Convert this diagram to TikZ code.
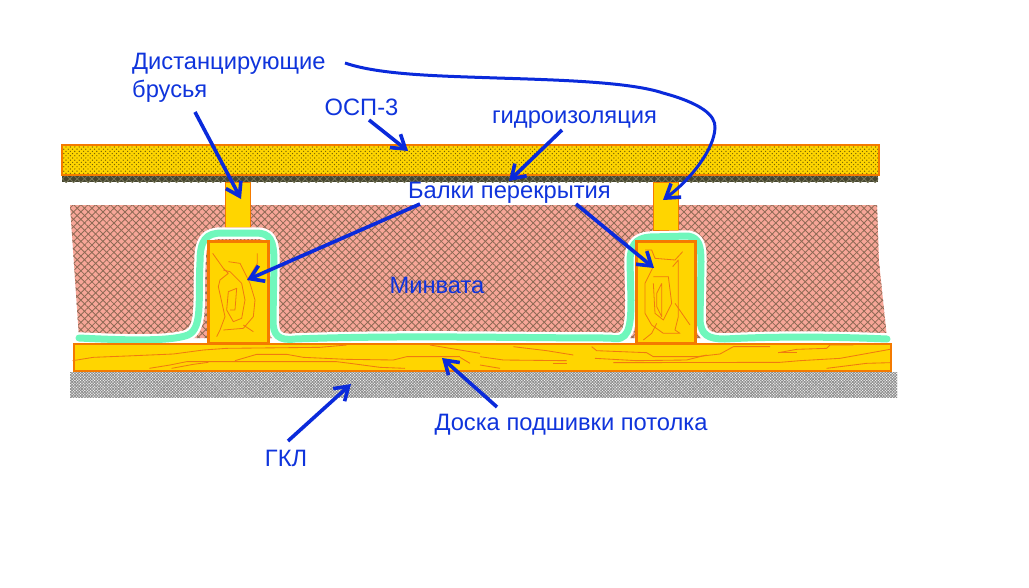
\documentclass[tikz,border=0pt]{standalone}
\usepackage{fontspec}
\setmainfont{Liberation Sans}
\usetikzlibrary{arrows.meta,patterns.meta}
\definecolor{wood}{HTML}{FFD500}
\definecolor{edge}{HTML}{F47A00}
\definecolor{grain}{HTML}{F07A10}
\definecolor{ink}{HTML}{0A2ADB}
\definecolor{txt}{HTML}{0F34DC}
\definecolor{pinkw}{HTML}{F7A698}
\definecolor{woolline}{HTML}{8F6A55}
\definecolor{mint}{HTML}{70F7BC}
\definecolor{memb}{HTML}{45452F}
\definecolor{membl}{HTML}{77775A}
\tikzset{
  plank/.style={draw=edge,line width=2.2pt,fill=wood},
  thin plank/.style={draw=edge,line width=1pt,fill=wood},
  grainline/.style={draw=grain,line width=.85pt,line join=round},
  scribble/.style={draw=grain,line width=.8pt,line join=round},
  ptr/.style={draw=ink,line width=3.6pt,-{Straight Barb[length=13pt,width=17pt,line width=3.6pt]}},
  lbl/.style={text=txt,font=\fontsize{23.7}{28}\selectfont,inner sep=0pt,align=left},
}
\begin{document}
\begin{tikzpicture}[x=1pt,y=-1pt]
\useasboundingbox (0,0) rectangle (1029,587);
\fill[white] (0,0) rectangle (1029,587);
% mineral wool
\def\woolshape{(70,205) -- (877,205) -- (879,262) -- (887,338) -- (79,338) -- cycle}
\fill[pinkw] \woolshape;
\fill[pattern={Lines[angle=45,distance=5.2pt,line width=.85pt]},pattern color=woolline] \woolshape;
\fill[pattern={Lines[angle=-45,distance=5.2pt,line width=.85pt]},pattern color=woolline] \woolshape;
% dark membrane
\fill[memb] (62,176) rectangle (878,182);
\fill[pattern={Lines[angle=45,distance=5.2pt,line width=.8pt]},pattern color=membl] (62,176) rectangle (878,182);
\fill[pattern={Lines[angle=-45,distance=5.2pt,line width=.8pt]},pattern color=membl] (62,176) rectangle (878,182);
% top board
\draw[plank] (62,145) rectangle (879,175);
\fill[pattern={Dots[distance=4.4pt,radius=.7pt]},pattern color=black!55!wood] (63.2,146.2) rectangle (877.8,173.8);
\fill[pattern={Dots[distance=4.4pt,radius=.7pt,xshift=2.2pt,yshift=2.2pt]},pattern color=black!55!wood] (63.2,146.2) rectangle (877.8,173.8);
% spacers
\draw[thin plank] (225,182) rectangle (250,227);
\draw[thin plank] (653,182) rectangle (678,230);
% vapour film
\def\filmpath{(79,338) .. controls (120,340) and (170,342) .. (188,335) .. controls (203,328) and (198,300) .. (200,262) .. controls (200,240) and (206,233) .. (222,233) -- (256,233) .. controls (270,233) and (274,240) .. (274,262) -- (273,320) .. controls (273,335) and (278,341) .. (295,339) .. controls (400,335) and (520,338) .. (610,338) .. controls (628,342) and (631,330) .. (631,300) -- (630,262) .. controls (630,245) and (636,238) .. (650,237) -- (688,236) .. controls (699,238) and (701,245) .. (701,262) -- (700,320) .. controls (701,335) and (708,339) .. (725,339) .. controls (780,336) and (840,337) .. (887,339)}
\draw[white,line width=11.5pt,line cap=round,line join=round] \filmpath;
\draw[mint,line width=7pt,line cap=round,line join=round] \filmpath;
% joists
\draw[plank,line width=3pt] (208,241) rectangle (268,343);
\draw[plank,line width=3pt] (636,241) rectangle (695,343);
% scribbles
\begin{scope}[shift={(170,220)},scale=1/3]
\draw[scribble] (128,100)--(160,145)--(175,160)--(150,180)--(145,200)--(165,290)--(150,330)--(140,350);
\draw[scribble] (175,125)--(210,130)--(240,190)--(255,240)--(250,290)--(220,325)--(160,330);
\draw[scribble] (262,100)--(262,130)--(235,175);
\draw[scribble] (160,150)--(180,155)--(215,190)--(225,240)--(215,295)--(190,305)--(170,270)--(175,215)--(200,205)--(195,270)--(180,270);
\draw[scribble] (220,315)--(250,335);
\end{scope}
\begin{scope}[shift={(600,170)},scale=1/3]
\draw[scribble] (135,240)--(155,240)--(165,265)--(225,270)--(248,245);
\draw[scribble] (218,290)--(235,270)--(235,440)--(225,480)--(240,490)--(190,490)--(155,465)--(135,430)--(135,340)--(160,290);
\draw[scribble] (160,320)--(205,320)--(215,400)--(190,450)--(165,430)--(160,340);
\draw[scribble] (185,340)--(170,370)--(170,410)--(185,440)--(185,340);
\draw[scribble] (225,400)--(270,465);
\draw[scribble] (170,460)--(155,490)--(130,510);
\end{scope}
% gypsum board
\fill[pattern={Lines[angle=45,distance=2pt,line width=.8pt]},pattern color=black!45] (70,372) rectangle (897,397);
\fill[pattern={Lines[angle=-45,distance=2pt,line width=.8pt]},pattern color=black!45] (70,372) rectangle (897,397);
% ceiling board
\draw[plank] (74,344) rectangle (891,371);
\begin{scope}[shift={(60,330)},scale=1/3]
\draw[grainline] (38,92)--(100,82)--(200,78)--(340,72)--(430,60)--(500,55)--(780,52)--(860,45);
\draw[grainline] (268,115)--(330,105)--(380,95)--(520,95)--(830,95)--(870,100)--(960,112)--(1035,115);
\draw[grainline] (335,115)--(400,103)--(445,97);
\draw[grainline] (525,92)--(590,73)--(680,73)--(730,82)--(860,88)--(1000,90)--(1040,80)--(1200,80);
\draw[grainline] (1110,45)--(1200,60)--(1260,70);
\draw[grainline] (1200,82)--(1230,100);
\end{scope}
\begin{scope}[shift={(480,330)},scale=1/3]
\draw[grainline] (100,50)--(200,62)--(280,75);
\draw[grainline] (0,80)--(70,90)--(260,92);
\draw[grainline] (220,100)--(260,100);
\draw[grainline] (0,105)--(60,115);
\draw[grainline] (335,50)--(350,62)--(500,68)--(520,80)--(650,80)--(720,72)--(760,50)--(870,50);
\draw[grainline] (345,85)--(470,92)--(620,90)--(680,75);
\draw[grainline] (400,98)--(900,97)--(960,92)--(1080,85)--(1230,58);
\draw[grainline] (895,68)--(950,58)--(1040,55)--(1050,45)--(1120,45);
\draw[grainline] (895,68)--(950,68);
\draw[grainline] (1040,115)--(1120,105)--(1160,100)--(1230,98);
\end{scope}
% labels
\node[lbl,anchor=north west] (dist) at (132,53) {Дистанцирующие\\брусья};
\node[lbl,anchor=center] (osp) at (361.5,107.5) {ОСП-3};
\node[lbl,anchor=center] (gidro) at (574.5,120) {гидроизоляция};
\node[lbl,anchor=center] (balki) at (509.5,193) {Балки перекрытия};
\node[lbl,anchor=center] (minv) at (437,285) {Минвата};
\node[lbl,anchor=center] (doska) at (571,425) {Доска подшивки потолка};
\node[lbl,anchor=center] (gkl) at (286,458.5) {ГКЛ};
% connector ends
\coordinate (tSpacerL) at (241,199);
\coordinate (tSpacerR) at (663,200);
\coordinate (tOsp) at (408,151);
\coordinate (tGidro) at (509,181);
\coordinate (tBeamL) at (247,280);
\coordinate (tBeamR) at (654,268);
\coordinate (tDoska) at (442,358);
\coordinate (tGkl) at (351,384);
\coordinate (sSpacerL) at (195,112);
\coordinate (sSpacerR) at (345,63);
\coordinate (sOsp) at (369,120);
\coordinate (sGidro) at (562,130);
\coordinate (sBeamL) at (420,204);
\coordinate (sBeamR) at (576,204);
\coordinate (sDoska) at (497,407);
\coordinate (sGkl) at (288,441);
\draw[ptr] (sSpacerL) -- (tSpacerL);
\draw[ptr,line width=3pt] (sSpacerR) .. controls (380,75) and (440,76) .. (497,78) .. controls (560,80) and (630,82) .. (663,93) .. controls (700,103) and (716,115) .. (715,128) .. controls (714,150) and (690,180) .. (tSpacerR);
\draw[ptr] (sOsp) -- (tOsp);
\draw[ptr] (sGidro) -- (tGidro);
\draw[ptr] (sBeamL) -- (tBeamL);
\draw[ptr] (sBeamR) -- (tBeamR);
\draw[ptr] (sDoska) -- (tDoska);
\draw[ptr] (sGkl) -- (tGkl);
\end{tikzpicture}
\end{document}
